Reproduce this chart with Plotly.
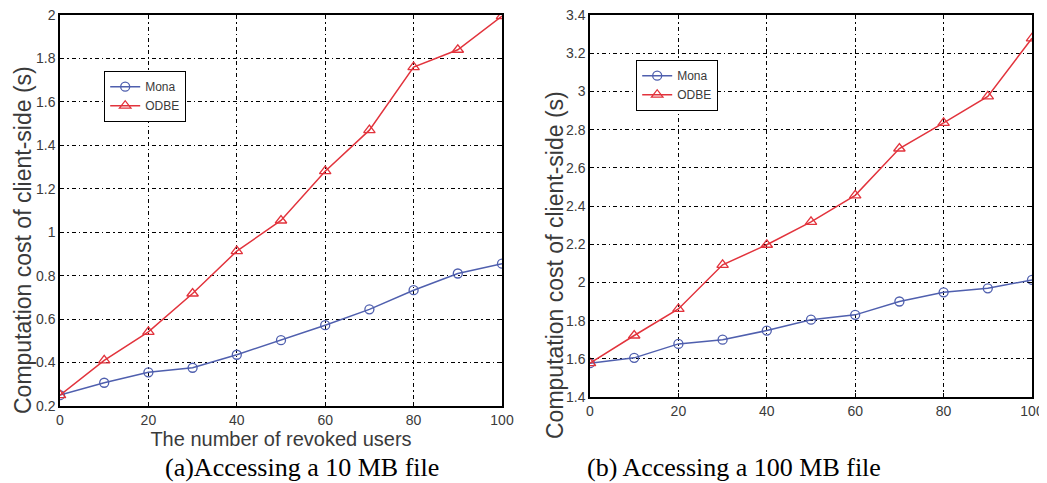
import plotly.graph_objects as go

# ---- data ----
revoked_users = [0, 10, 20, 30, 40, 50, 60, 70, 80, 90, 100]

mona_10mb = [0.25, 0.307, 0.355, 0.376, 0.436, 0.503, 0.572, 0.645, 0.733, 0.81, 0.855]
odbe_10mb = [0.25, 0.41, 0.541, 0.718, 0.913, 1.054, 1.281, 1.47, 1.76, 1.84, 1.995]

mona_100mb = [1.577, 1.605, 1.678, 1.70, 1.748, 1.805, 1.83, 1.90, 1.948, 1.969, 2.013]
odbe_100mb = [1.577, 1.722, 1.861, 2.092, 2.197, 2.317, 2.456, 2.701, 2.835, 2.974, 3.278]

x_ticks = [0, 20, 40, 60, 80, 100]
y_ticks_a = [0.2, 0.4, 0.6, 0.8, 1.0, 1.2, 1.4, 1.6, 1.8, 2.0]
y_tick_text_a = ["0.2", "0.4", "0.6", "0.8", "1", "1.2", "1.4", "1.6", "1.8", "2"]
y_ticks_b = [1.4, 1.6, 1.8, 2.0, 2.2, 2.4, 2.6, 2.8, 3.0, 3.2, 3.4]
y_tick_text_b = ["1.4", "1.6", "1.8", "2", "2.2", "2.4", "2.6", "2.8", "3", "3.2", "3.4"]

series_names = ["Mona", "ODBE"]
x_title = "The number of revoked users"
y_title = "Computation cost of client-side (s)"
captions = ["(a)Accessing a 10 MB file", "(b) Accessing a 100 MB file"]

# ---- style ----
# the page body has an 8px margin, so the figure starts at (8, 8) in the window
OFF = 8
W, H = 1047 - OFF, 483 - OFF
BLUE = "#4f5fae"
RED = "#e2333c"
SANS = "Liberation Sans, Arial, sans-serif"
SERIF = "Liberation Serif, Times New Roman, serif"
TXT = "#3a3a3a"


def px_x(v):
    return (v - OFF) / W


def px_y(v):
    return 1 - (v - OFF) / H


fig = go.Figure()

panels = [
    ("x", "y", mona_10mb, odbe_10mb, "legend"),
    ("x2", "y2", mona_100mb, odbe_100mb, "legend2"),
]
for xa, ya, mona, odbe, lg in panels:
    fig.add_trace(go.Scatter(
        x=revoked_users, y=mona, name=series_names[0], xaxis=xa, yaxis=ya,
        mode="lines+markers", legend=lg,
        line=dict(color=BLUE, width=1.5),
        marker=dict(symbol="circle-open", size=9, color=BLUE, line=dict(width=1.3)),
    ))
    fig.add_trace(go.Scatter(
        x=revoked_users, y=odbe, name=series_names[1], xaxis=xa, yaxis=ya,
        mode="lines+markers", legend=lg,
        line=dict(color=RED, width=1.5),
        marker=dict(symbol="triangle-up-open", size=10, color=RED, line=dict(width=1.3)),
    ))

common_axis = dict(
    showline=True, linecolor="black", linewidth=1.5, mirror="ticks",
    ticks="inside", ticklen=4, tickcolor="black",
    showgrid=True, gridcolor="black", gridwidth=1.3, griddash="4px,3px,1.5px,3px",
    zeroline=False, automargin=False, ticklabeloverflow="allow",
    tickfont=dict(family=SANS, size=14, color=TXT),
)

ytitle_font = dict(family=SANS, size=23, color=TXT)
caption_font = dict(family=SERIF, size=26, color="black")

fig.update_layout(
    width=W, height=H,
    margin=dict(l=0, r=0, t=0, b=0),
    paper_bgcolor="white", plot_bgcolor="white",
    showlegend=True,
    xaxis=dict(common_axis, domain=[px_x(60), px_x(502)], range=[0, 100],
               tickvals=x_ticks, anchor="y",
               title=dict(text=x_title, font=dict(family=SANS, size=20, color=TXT), standoff=0)),
    yaxis=dict(common_axis, domain=[px_y(406), px_y(15)], range=[0.2, 2.0],
               tickvals=y_ticks_a, ticktext=y_tick_text_a, anchor="x"),
    xaxis2=dict(common_axis, domain=[px_x(590), px_x(1032)], range=[0, 100],
                tickvals=x_ticks, anchor="y2"),
    yaxis2=dict(common_axis, domain=[px_y(397), px_y(15)], range=[1.4, 3.4],
                tickvals=y_ticks_b, ticktext=y_tick_text_b, anchor="x2"),
    legend=dict(x=px_x(104), y=px_y(71), xanchor="left", yanchor="top",
                bgcolor="white", bordercolor="black", borderwidth=1.2,
                font=dict(family=SANS, size=12, color=TXT),
                tracegroupgap=0, itemwidth=30),
    legend2=dict(x=px_x(636), y=px_y(60), xanchor="left", yanchor="top",
                 bgcolor="white", bordercolor="black", borderwidth=1.2,
                 font=dict(family=SANS, size=12, color=TXT),
                 tracegroupgap=0, itemwidth=30),
    annotations=[
        dict(text=y_title, x=px_x(23), y=px_y(240), xref="paper", yref="paper",
             textangle=-90, showarrow=False, xanchor="center", yanchor="middle",
             font=ytitle_font),
        dict(text=y_title, x=px_x(555), y=px_y(265), xref="paper", yref="paper",
             textangle=-90, showarrow=False, xanchor="center", yanchor="middle",
             font=ytitle_font),
        dict(text=captions[0], x=px_x(302), y=px_y(467), xref="paper", yref="paper",
             showarrow=False, xanchor="center", yanchor="middle",
             font=caption_font),
        dict(text=captions[1], x=px_x(734), y=px_y(467), xref="paper", yref="paper",
             showarrow=False, xanchor="center", yanchor="middle",
             font=caption_font),
    ],
)

fig.write_html("out.html")
